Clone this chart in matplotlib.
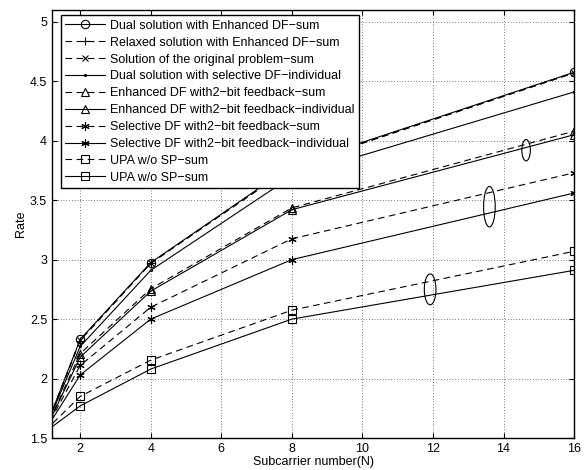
import matplotlib.pyplot as plt
from matplotlib.patches import Ellipse
from matplotlib.ticker import FuncFormatter

plt.rcParams['font.family'] = ['Liberation Sans', 'DejaVu Sans']

N = [1, 2, 4, 8, 16]

dual_enh_sum = [1.57, 2.33, 2.975, 3.79, 4.575]
relaxed_enh_sum = [1.57, 2.32, 2.97, 3.785, 4.57]
original_sum = [1.57, 2.325, 2.97, 3.78, 4.57]
dual_sel_ind = [1.57, 2.27, 2.91, 3.70, 4.41]
enh_2bit_sum = [1.56, 2.21, 2.755, 3.435, 4.08]
enh_2bit_ind = [1.56, 2.18, 2.735, 3.42, 4.05]
sel_2bit_sum = [1.56, 2.11, 2.60, 3.175, 3.73]
sel_2bit_ind = [1.56, 2.03, 2.50, 3.00, 3.56]
upa_sum_dash = [1.56, 1.85, 2.155, 2.575, 3.07]
upa_sum_solid = [1.55, 1.77, 2.08, 2.50, 2.91]

labels = ['Dual solution with Enhanced DF\u2212sum',
          'Relaxed solution with Enhanced DF\u2212sum',
          'Solution of the original problem\u2212sum',
          'Dual solution with selective DF\u2212individual',
          'Enhanced DF with2\u2212bit feedback\u2212sum',
          'Enhanced DF with2\u2212bit feedback\u2212individual',
          'Selective DF with2\u2212bit feedback\u2212sum',
          'Selective DF with2\u2212bit feedback\u2212individual',
          'UPA w/o SP\u2212sum',
          'UPA w/o SP\u2212sum']

# (center N, center rate, width, height) of the grouping ellipses
ell_x = [14.64, 13.6, 11.92]
ell_y = [3.92, 3.445, 2.75]
ell_w = [0.24, 0.33, 0.33]
ell_h = [0.18, 0.34, 0.26]

fig = plt.figure(figsize=(5.84, 4.70), dpi=100)
ax = fig.add_axes([0.089, 0.068, 0.894, 0.911])

dash = (0, (6, 4))
star = (6, 2, 0)
series = [
    (dual_enh_sum, '-', 'o', 6),
    (relaxed_enh_sum, dash, '+', 6),
    (original_sum, dash, 'x', 4.5),
    (dual_sel_ind, '-', '.', 3),
    (enh_2bit_sum, dash, '^', 6),
    (enh_2bit_ind, '-', '^', 6),
    (sel_2bit_sum, dash, star, 6),
    (sel_2bit_ind, '-', star, 6),
    (upa_sum_dash, dash, 's', 5.5),
    (upa_sum_solid, '-', 's', 5.5),
]
for (vals, ls, mk, ms), lab in zip(series, labels):
    ax.plot(N, vals, color='black', linestyle=ls, marker=mk, markersize=ms,
            markerfacecolor='none', markeredgewidth=0.8, linewidth=0.8, label=lab)

for x, y, w, h in zip(ell_x, ell_y, ell_w, ell_h):
    ax.add_patch(Ellipse((x, y), w, h, fill=False, edgecolor='black', linewidth=0.8))

ax.set_xlim(1.2, 16)
ax.set_ylim(1.5, 5.1)
ax.set_xticks([2, 4, 6, 8, 10, 12, 14, 16])
ax.set_yticks([1.5, 2, 2.5, 3, 3.5, 4, 4.5, 5])
ax.yaxis.set_major_formatter(FuncFormatter(lambda v, p: f'{v:g}'))
ax.grid(True, linestyle=(0, (1, 3)), color='black', linewidth=0.5)
ax.tick_params(direction='in', top=True, right=True, labelsize=9)
for s in ax.spines.values():
    s.set_linewidth(1.0)

ax.set_xlabel('Subcarrier number(N)', fontsize=9, labelpad=1)
ax.set_ylabel('Rate', fontsize=9, labelpad=2)

leg = ax.legend(loc='upper left', bbox_to_anchor=(0.0167, 0.987), borderaxespad=0,
                fontsize=9, handlelength=3.2, fancybox=False, framealpha=1,
                edgecolor='black', labelspacing=0.39, borderpad=0.35,
                handletextpad=0.4)
leg.get_frame().set_linewidth(1.0)

fig.savefig('out.png', dpi=100)
